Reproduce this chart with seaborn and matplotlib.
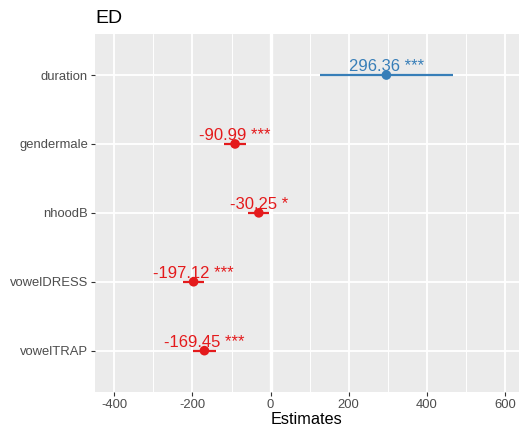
import pandas as pd
import matplotlib
matplotlib.use("Agg")
import matplotlib.pyplot as plt
import seaborn as sns

# model estimates
terms = ["duration", "gendermale", "nhoodB", "vowelDRESS", "vowelTRAP"]
estimates = [296.36, -90.99, -30.25, -197.12, -169.45]
ci_low = [127, -119, -57, -224, -198]
ci_high = [468, -62, -3, -171, -140]
stars = ["***", "***", "*", "***", "***"]

x_ticks = [-400, -200, 0, 200, 400, 600]
x_minor = [-300, -100, 100, 300, 500]

BLUE = "#377EB8"
RED = "#E41A1C"

df = pd.DataFrame({"term": terms, "estimate": estimates,
                   "lo": ci_low, "hi": ci_high, "stars": stars})
df["direction"] = ["pos" if e > 0 else "neg" for e in df["estimate"]]
palette = {"pos": BLUE, "neg": RED}

sns.set_theme(style="darkgrid")
plt.rcParams["font.family"] = ["Liberation Sans", "DejaVu Sans"]

fig = plt.figure(figsize=(5.19, 4.32), dpi=100)
ax = fig.add_axes([95 / 519, 40 / 432, 423.5 / 519, 358.3 / 432])
ax.set_facecolor("#EBEBEB")

# grid
for v in x_minor:
    ax.axvline(v, color="white", lw=0.7, zorder=0)
for v in x_ticks:
    ax.axvline(v, color="white", lw=1.3, zorder=0)
ax.axvline(0, color="white", lw=2.4, zorder=0)
ax.grid(False)

ypos = list(range(len(terms)))
for y in ypos:
    ax.axhline(y, color="white", lw=1.3, zorder=0)

ax.hlines(ypos, df["lo"], df["hi"],
          colors=[palette[d] for d in df["direction"]], lw=1.6, zorder=2)
sns.scatterplot(x=df["estimate"], y=ypos, hue=df["direction"], palette=palette,
                s=48, edgecolor="none", legend=False, zorder=3, ax=ax)

for y, (_, row) in zip(ypos, df.iterrows()):
    ax.annotate(f"{row['estimate']:.2f} {row['stars']}", (row["estimate"], y),
                xytext=(0, 2.6), textcoords="offset points",
                ha="center", va="baseline", fontsize=12,
                color=palette[row["direction"]], zorder=4)

ax.set_xlim(-449.5, 634.5)
ax.set_ylim(4.6, -0.6)
ax.set_xticks(x_ticks)
ax.set_xticklabels([str(v) for v in x_ticks])
ax.set_yticks(ypos)
ax.set_yticklabels(terms)
ax.tick_params(axis="both", labelsize=9.4, labelcolor="#4D4D4D", color="#333333",
               length=3, width=0.8, pad=2, bottom=True, left=True)
for s in ax.spines.values():
    s.set_visible(False)

ax.set_xlabel("Estimates", fontsize=11.7, color="black", labelpad=1)
ax.set_ylabel("")
ax.set_title("ED", loc="left", fontsize=14, color="black", pad=8)

fig.savefig("out.png", dpi=100)
